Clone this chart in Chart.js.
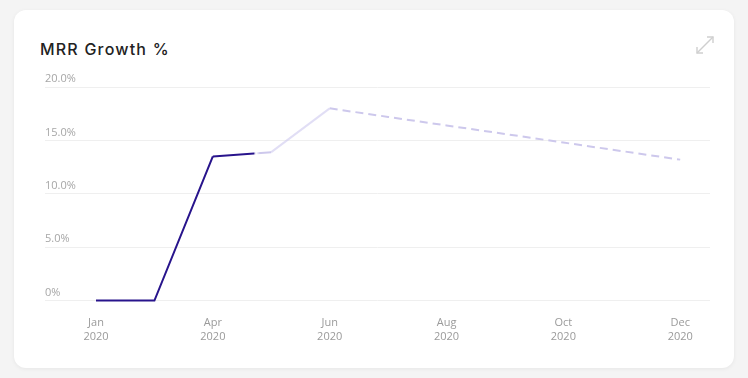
<!DOCTYPE html>
<html lang="en">
<head>
<meta charset="UTF-8">
<title>MRR Growth %</title>
<script src="https://cdn.jsdelivr.net/npm/chart.js"></script>
<style>
  html, body { margin: 0; padding: 0; background: #f4f4f4; }
  body { width: 748px; height: 378px; position: relative; overflow: hidden; font-family: "Open Sans", Lato, sans-serif; }
  .card { position: absolute; left: 14px; top: 10px; width: 720px; height: 358px; background: #fff; border-radius: 12px; box-shadow: 0 1px 4px rgba(0,0,0,0.06); }
  .title { position: absolute; left: 40px; top: 39px; font-family: Inter, "Open Sans", sans-serif; font-size: 16px; font-weight: 500; color: #222; letter-spacing: 1.2px; }
  .expand { position: absolute; left: 694px; top: 34px; }
  #wrap { position: absolute; left: 0; top: 0; width: 748px; height: 378px; }
</style>
</head>
<body>
<div class="card"></div>
<div class="title">MRR Growth %</div>
<svg class="expand" width="22" height="22" viewBox="0 0 22 22" fill="none" stroke="#cfcfcf" stroke-width="1.4">
  <line x1="3" y1="19" x2="19" y2="3"/>
  <polyline points="13,3 19,3 19,9"/>
  <polyline points="3,13 3,19 9,19"/>
</svg>
<div id="wrap"><canvas id="chart"></canvas></div>
<script>
// months on the category axis (index = position)
const months = ['Jan', 'Mar', 'Apr', 'May', 'Jun', 'Jul', 'Aug', 'Sep', 'Oct', 'Nov', 'Dec'];
const year = '2020';
const mrrGrowth = [0, 0, 13.5, 13.9, 18.0, 17.2, 16.4, 15.6, 14.8, 14.0, 13.2];
const labelIdx = [0, 2, 4, 6, 8, 10];
const yTicks = [0, 5, 10, 15, 20];

const DARK = 'rgb(40, 20, 140)';
const LAV = 'rgba(205, 200, 236, 1)';
const LAV_FAINT = 'rgba(205, 200, 238, 0.6)';

function segColor(ctx) {
  const i = ctx.p0DataIndex;
  if (i < 2) return DARK;
  if (i === 2) {
    const g = ctx.chart.ctx.createLinearGradient(ctx.p0.x, 0, ctx.p1.x, 0);
    g.addColorStop(0, DARK);
    g.addColorStop(0.7, DARK);
    g.addColorStop(0.74, 'rgba(200,195,235,0)');
    g.addColorStop(0.8, LAV);
    g.addColorStop(1, LAV);
    return g;
  }
  if (i === 3) return LAV_FAINT;
  return LAV;
}

const points = mrrGrowth.map((v, i) => ({ x: i, y: v }));

new Chart(document.getElementById('chart'), {
  type: 'line',
  data: {
    datasets: [{
      label: 'MRR Growth %',
      data: points,
      borderColor: DARK,
      borderWidth: 2,
      pointRadius: 0,
      pointHoverRadius: 0,
      tension: 0,
      clip: false,
      segment: {
        borderColor: segColor,
        borderDash: ctx => ctx.p0DataIndex >= 4 ? [8, 5] : undefined
      }
    }]
  },
  options: {
    responsive: true,
    maintainAspectRatio: false,
    animation: false,
    layout: { padding: { left: 45, right: 38, top: 87, bottom: 19 } },
    plugins: { legend: { display: false }, tooltip: { enabled: false } },
    scales: {
      x: {
        type: 'linear',
        min: -0.873,
        max: 10.51,
        grid: { display: false, drawTicks: false },
        border: { display: false },
        afterBuildTicks: s => { s.ticks = labelIdx.map(v => ({ value: v })); },
        ticks: {
          padding: 16,
          color: '#9a9a9a',
          font: { family: '"Open Sans", Lato, sans-serif', size: 11 },
          maxRotation: 0,
          autoSkip: false,
          callback: v => [months[v], year]
        }
      },
      y: {
        min: 0,
        max: 20,
        grid: { color: '#efefef', drawTicks: false, lineWidth: 1 },
        border: { display: false },
        afterBuildTicks: s => { s.ticks = yTicks.map(v => ({ value: v })); },
        ticks: {
          mirror: true,
          padding: 0,
          labelOffset: -8,
          color: '#a6a6a6',
          font: { family: '"Open Sans", Lato, sans-serif', size: 11 },
          callback: v => v === 0 ? '0%' : v.toFixed(1) + '%'
        }
      }
    }
  }
});
</script>
</body>
</html>
